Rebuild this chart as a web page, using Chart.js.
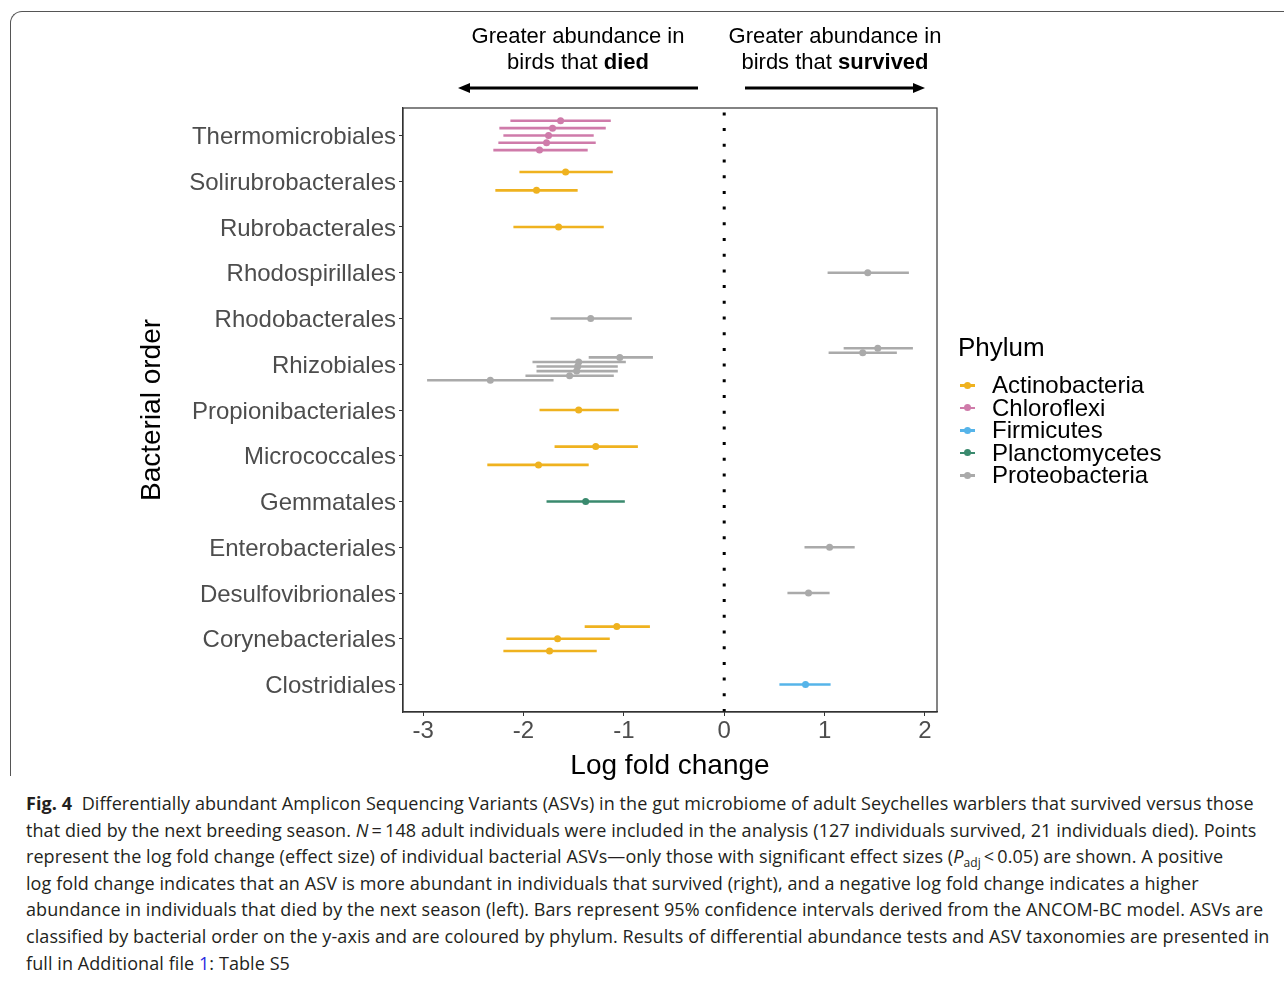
<!DOCTYPE html>
<html>
<head>
<meta charset="utf-8">
<script src="https://cdn.jsdelivr.net/npm/chart.js@4.4.1/dist/chart.umd.min.js"></script>
<style>
  body { margin: 0; background: #fff; width: 1284px; height: 981px; overflow: hidden; position: relative; }
  #frame { position: absolute; left: 10px; top: 11px; width: 1300px; height: 764px;
           border-left: 1.3px solid #555; border-top: 1.3px solid #555; border-top-left-radius: 12px; }
  #wrap { position: absolute; left: 0; top: 0; width: 1284px; height: 790px; }
  .note { position: absolute; font-family: "Liberation Sans", Arial, sans-serif; font-size: 22px;
          line-height: 26px; text-align: center; color: #000; width: 300px; }
  #legend { position: absolute; left: 958px; top: 332px; font-family: "Liberation Sans", Arial, sans-serif; color: #000; }
  #legend .ttl { font-size: 26px; line-height: 30px; margin-bottom: 12px; }
  #legend .row { font-size: 24px; line-height: 22.5px; height: 22.5px; position: relative; padding-left: 34px; }
  #legend .key { position: absolute; left: 2px; top: 10px; width: 15px; height: 2.5px; }
  #legend .dot { position: absolute; left: 4px; top: -2.5px; width: 7px; height: 7px; border-radius: 50%; }
  #caption { position: absolute; left: 26px; top: 790px; font-family: "Open Sans", sans-serif; font-size: 18px;
             letter-spacing: 0.08px; line-height: 26.6px; color: #231f20; white-space: nowrap; }
  #caption sub { font-size: 12px; line-height: 0; vertical-align: -4px; }
  #caption a { color: #2a2ae0; text-decoration: none; }
</style>
</head>
<body>
<div id="frame"></div>
<div id="wrap"><canvas id="myChart" width="1284" height="790"></canvas></div>
<div class="note" style="left:428px; top:23px;">Greater abundance in<br>birds that <b>died</b></div>
<div class="note" style="left:685px; top:23px;">Greater abundance in<br>birds that <b>survived</b></div>
<div id="legend"></div>
<div id="caption"><b>Fig. 4</b>&nbsp; Differentially abundant Amplicon Sequencing Variants (ASVs) in the gut microbiome of adult Seychelles warblers that survived versus those<br>that died by the next breeding season. <i>N</i>&thinsp;=&thinsp;148 adult individuals were included in the analysis (127 individuals survived, 21 individuals died). Points<br>represent the log fold change (effect size) of individual bacterial ASVs—only those with significant effect sizes (<i>P</i><sub>adj</sub>&thinsp;&lt;&thinsp;0.05) are shown. A positive<br>log fold change indicates that an ASV is more abundant in individuals that survived (right), and a negative log fold change indicates a higher<br>abundance in individuals that died by the next season (left). Bars represent 95% confidence intervals derived from the ANCOM-BC model. ASVs are<br>classified by bacterial order on the y-axis and are coloured by phylum. Results of differential abundance tests and ASV taxonomies are presented in<br>full in Additional file <a>1</a>: Table S5</div>
<script>
// bacterial orders, top to bottom
const orders = ['Thermomicrobiales', 'Solirubrobacterales', 'Rubrobacterales', 'Rhodospirillales',
  'Rhodobacterales', 'Rhizobiales', 'Propionibacteriales', 'Micrococcales', 'Gemmatales',
  'Enterobacteriales', 'Desulfovibrionales', 'Corynebacteriales', 'Clostridiales']
const phyla = ['Actinobacteria', 'Chloroflexi', 'Firmicutes', 'Planctomycetes', 'Proteobacteria']
const phylumColors = ['#EFB21F', '#CF7BAA', '#56B4E9', '#3A8A6E', '#AAAAAA']
const xTicks = [-3, -2, -1, 0, 1, 2]

// one entry per ASV, in drawing order (top to bottom within each order)
const asvOrder = ['Thermomicrobiales', 'Thermomicrobiales', 'Thermomicrobiales', 'Thermomicrobiales', 'Thermomicrobiales',
  'Solirubrobacterales', 'Solirubrobacterales', 'Rubrobacterales', 'Rhodospirillales', 'Rhodobacterales',
  'Rhizobiales', 'Rhizobiales', 'Rhizobiales', 'Rhizobiales', 'Rhizobiales', 'Rhizobiales', 'Rhizobiales', 'Rhizobiales',
  'Propionibacteriales', 'Micrococcales', 'Micrococcales', 'Gemmatales', 'Enterobacteriales', 'Desulfovibrionales',
  'Corynebacteriales', 'Corynebacteriales', 'Corynebacteriales', 'Clostridiales']
const asvPhylum = ['Chloroflexi', 'Chloroflexi', 'Chloroflexi', 'Chloroflexi', 'Chloroflexi',
  'Actinobacteria', 'Actinobacteria', 'Actinobacteria', 'Proteobacteria', 'Proteobacteria',
  'Proteobacteria', 'Proteobacteria', 'Proteobacteria', 'Proteobacteria', 'Proteobacteria', 'Proteobacteria', 'Proteobacteria', 'Proteobacteria',
  'Actinobacteria', 'Actinobacteria', 'Actinobacteria', 'Planctomycetes', 'Proteobacteria', 'Proteobacteria',
  'Actinobacteria', 'Actinobacteria', 'Actinobacteria', 'Firmicutes']
const asvLfc = [-1.63, -1.71, -1.75, -1.77, -1.84,
  -1.58, -1.87, -1.65, 1.43, -1.33,
  1.53, 1.38, -1.04, -1.45, -1.46, -1.47, -1.54, -2.33,
  -1.45, -1.28, -1.85, -1.38, 1.05, 0.84,
  -1.07, -1.66, -1.74, 0.81]
const asvLow = [-2.13, -2.24, -2.20, -2.25, -2.30,
  -2.04, -2.28, -2.10, 1.03, -1.73,
  1.19, 1.04, -1.35, -1.91, -1.87, -1.87, -1.98, -2.96,
  -1.84, -1.69, -2.36, -1.77, 0.80, 0.63,
  -1.39, -2.17, -2.20, 0.55]
const asvHigh = [-1.13, -1.18, -1.30, -1.28, -1.36,
  -1.11, -1.46, -1.20, 1.84, -0.92,
  1.88, 1.72, -0.71, -0.98, -1.06, -1.06, -1.10, -1.70,
  -1.05, -0.86, -1.35, -0.99, 1.30, 1.05,
  -0.74, -1.14, -1.27, 1.06]

// dodge ASVs within an order (width 0.8, like position_dodge)
const counts = {}, seen = {}
asvOrder.forEach(o => counts[o] = (counts[o] || 0) + 1)
const asvY = asvOrder.map(o => {
  const k = seen[o] || 0
  seen[o] = k + 1
  return (orders.length - orders.indexOf(o)) + 0.4 - 0.8 * (k + 0.5) / counts[o]
})

const datasets = []
phyla.forEach((p, pi) => {
  const bars = [], pts = []
  asvPhylum.forEach((ph, i) => {
    if (ph !== p) return
    bars.push({x: asvLow[i], y: asvY[i]}, {x: asvHigh[i], y: asvY[i]}, {x: null, y: null})
    pts.push({x: asvLfc[i], y: asvY[i]})
  })
  datasets.push({data: bars, showLine: true, spanGaps: false, borderColor: phylumColors[pi],
    borderWidth: 2.6, pointRadius: 0, order: 1})
  datasets.push({data: pts, backgroundColor: phylumColors[pi], borderWidth: 0,
    pointRadius: 3.5, order: 0})
})
datasets.push({data: [{x: 0, y: 0.4}, {x: 0, y: 13.6}], showLine: true, borderColor: '#000',
  borderWidth: 3, borderDash: [3, 12.7], pointRadius: 0, order: 2})

const panelBox = {
  id: 'panelBox',
  afterDraw(chart) {
    const {ctx, chartArea: a} = chart
    ctx.save()
    ctx.strokeStyle = '#333'
    ctx.lineWidth = 1.2
    ctx.strokeRect(a.left, a.top, a.right - a.left, a.bottom - a.top)
    // arrows over the panel
    ctx.fillStyle = '#000'
    ctx.lineWidth = 3
    ctx.strokeStyle = '#000'
    const arrow = (x1, x2, y) => {
      const dir = Math.sign(x2 - x1)
      ctx.beginPath(); ctx.moveTo(x1, y); ctx.lineTo(x2 - dir * 8, y); ctx.stroke()
      ctx.beginPath(); ctx.moveTo(x2, y); ctx.lineTo(x2 - dir * 12, y - 5); ctx.lineTo(x2 - dir * 12, y + 5); ctx.closePath(); ctx.fill()
    }
    arrow(698, 458, 88)
    arrow(745, 925, 88)
    ctx.restore()
  }
}

const ctx = document.getElementById('myChart')
new Chart(ctx, {
  type: 'scatter',
  data: {datasets},
  options: {
    responsive: false,
    animation: false,
    layout: {padding: {left: 120, right: 347, top: 108, bottom: 7}},
    plugins: {legend: {display: false}, tooltip: {enabled: false}},
    scales: {
      x: {
        min: -3.2, max: 2.12,
        afterBuildTicks: s => { s.ticks = xTicks.map(v => ({value: v})) },
        afterFit: s => { s.height = 71 },
        grid: {drawOnChartArea: false, drawTicks: true, tickLength: 4, color: '#333'},
        border: {display: true, color: '#333', width: 1.2},
        ticks: {color: '#4D4D4D', font: {family: 'Liberation Sans', size: 24}, padding: 1, maxRotation: 0},
        title: {display: true, text: 'Log fold change', color: '#000',
          font: {family: 'Liberation Sans', size: 28}, padding: {top: 0, bottom: 0}}
      },
      y: {
        min: 0.4, max: 13.6,
        afterBuildTicks: s => { s.ticks = orders.map((_, i) => ({value: i + 1})) },
        afterFit: s => { s.width = 283 },
        grid: {drawOnChartArea: false, drawTicks: true, tickLength: 4, color: '#333'},
        border: {display: true, color: '#333', width: 1.2},
        // empty first line with a tiny line height nudges each label 2px down
        ticks: {color: '#4D4D4D', font: {family: 'Liberation Sans', size: 24, lineHeight: '4px'}, padding: 3,
          callback: v => ['', orders[orders.length - v]]},
        title: {display: true, text: 'Bacterial order', color: '#000',
          font: {family: 'Liberation Sans', size: 28}, padding: {top: 15, bottom: 0}}
      }
    }
  },
  plugins: [panelBox]
})

// legend
const lg = document.getElementById('legend')
lg.innerHTML = '<div class="ttl">Phylum</div>' + phyla.map((p, i) =>
  `<div class="row"><span class="key" style="background:${phylumColors[i]}"><span class="dot" style="background:${phylumColors[i]}"></span></span>${p}</div>`).join('')
</script>
</body>
</html>
